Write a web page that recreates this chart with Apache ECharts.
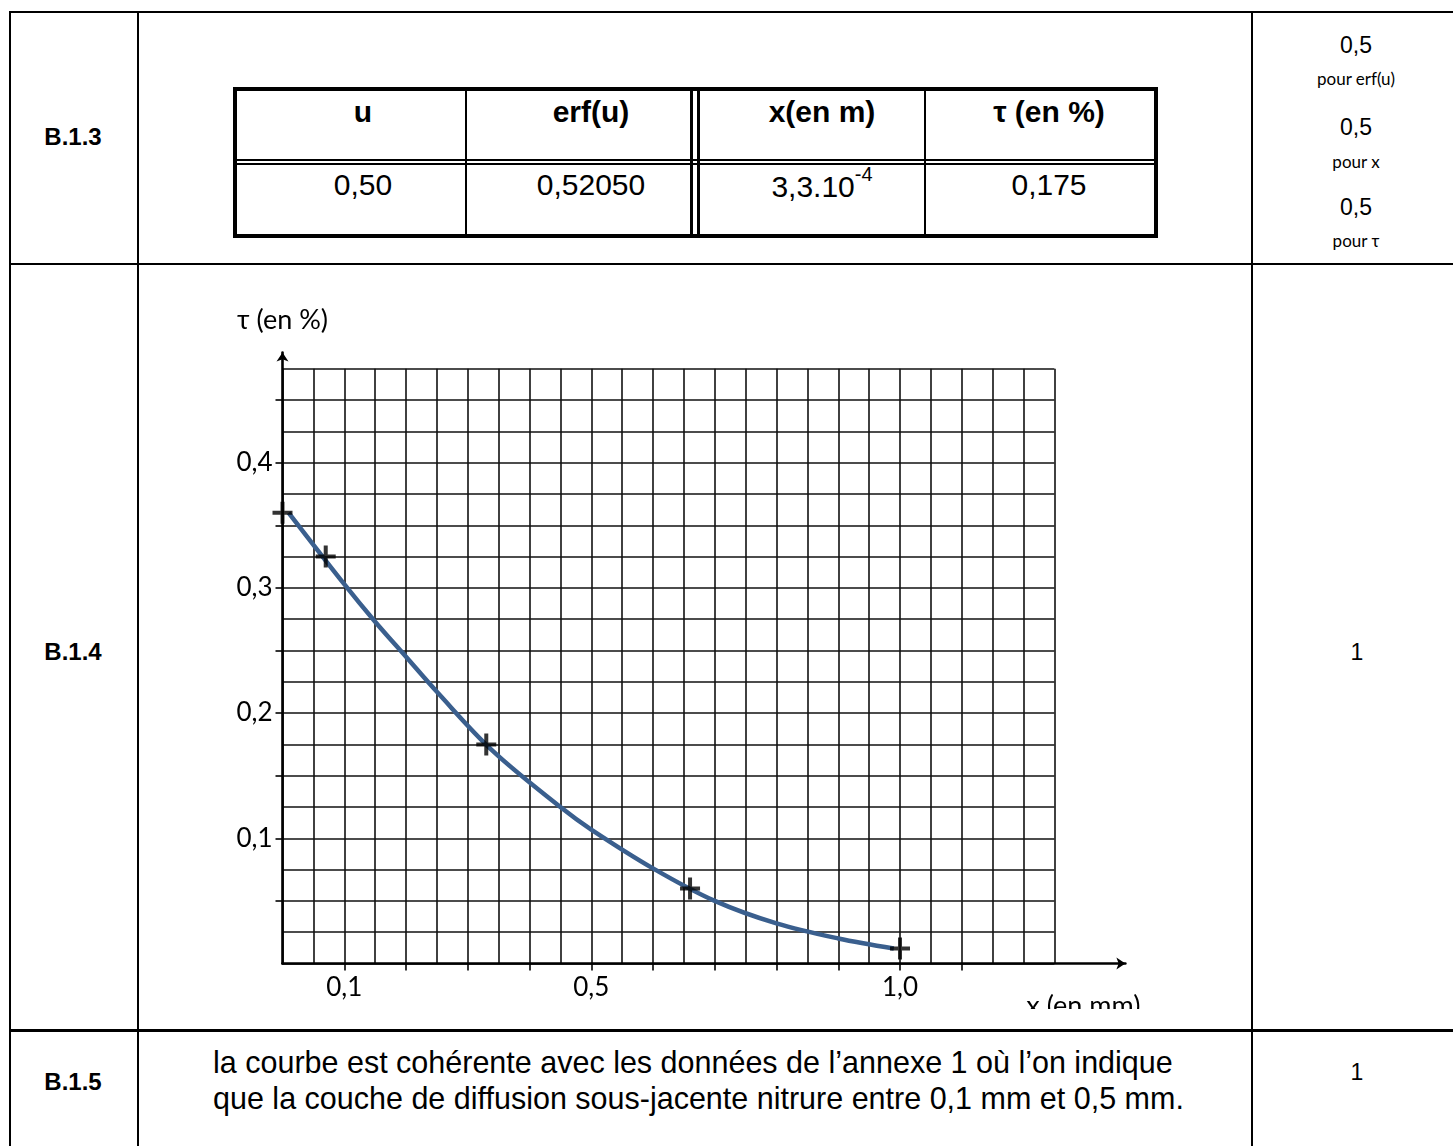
<!DOCTYPE html>
<html>
<head>
<meta charset="utf-8">
<script src="https://cdn.jsdelivr.net/npm/echarts@6/dist/echarts.min.js"></script>
<style>
  html, body { margin: 0; padding: 0; background: #fff; }
  body { position: relative; width: 1453px; height: 1146px; overflow: hidden; font-family: Arial, "Liberation Sans", sans-serif; color: #000; }
  .h, .v { position: absolute; background: #000; }
  .t { position: absolute; transform: translate(-50%, -50%); white-space: nowrap; line-height: 1; }
  .b { font-weight: bold; }
  .cal { font-family: Lato, "Open Sans", sans-serif; }
  #main1 { position: absolute; left: 140px; top: 266px; width: 1110px; height: 743px; }
  .para { position: absolute; left: 213px; font-size: 30.5px; line-height: 36px; white-space: nowrap; }
</style>
</head>
<body>
<!-- grand tableau -->
<div class="h" style="left:9px;top:11px;width:1444px;height:2px"></div>
<div class="v" style="left:9px;top:11px;width:2px;height:1135px"></div>
<div class="v" style="left:137px;top:11px;width:2px;height:1135px"></div>
<div class="v" style="left:1251px;top:11px;width:2px;height:1135px"></div>
<div class="h" style="left:9px;top:263px;width:1444px;height:2px"></div>
<div class="h" style="left:9px;top:1029px;width:1444px;height:3px"></div>

<!-- B.1.3 -->
<div class="t b" style="left:73px;top:137px;font-size:24px">B.1.3</div>
<div style="position:absolute;left:233px;top:87px;width:925px;height:151px;border:4px solid #000;box-sizing:border-box"></div>
<div class="v" style="left:465px;top:87px;width:2px;height:151px"></div>
<div class="v" style="left:690px;top:87px;width:3px;height:151px"></div>
<div class="v" style="left:697px;top:87px;width:3px;height:151px"></div>
<div class="v" style="left:924px;top:87px;width:2px;height:151px"></div>
<div class="h" style="left:233px;top:159px;width:925px;height:2px"></div>
<div class="h" style="left:233px;top:163px;width:925px;height:2px"></div>

<div class="t b" style="left:363px;top:112px;font-size:30px">u</div>
<div class="t b" style="left:591px;top:112px;font-size:30px">erf(u)</div>
<div class="t b" style="left:822px;top:112px;font-size:30px">x(en m)</div>
<div class="t b" style="left:1049px;top:112px;font-size:30px">τ (en %)</div>
<div class="t" style="left:363px;top:185px;font-size:30px">0,50</div>
<div class="t" style="left:591px;top:185px;font-size:30px">0,52050</div>
<div class="t" style="left:822px;top:183px;font-size:30px">3,3.10<sup style="font-size:20px;vertical-align:16px">-4</sup></div>
<div class="t" style="left:1049px;top:185px;font-size:30px">0,175</div>

<div class="t" style="left:1356px;top:45px;font-size:23px">0,5</div>
<div class="t cal" style="left:1356px;top:78px;font-size:17px">pour erf(u)</div>
<div class="t" style="left:1356px;top:127px;font-size:23px">0,5</div>
<div class="t cal" style="left:1356px;top:161px;font-size:17px">pour x</div>
<div class="t" style="left:1356px;top:207px;font-size:23px">0,5</div>
<div class="t cal" style="left:1356px;top:240px;font-size:17px">pour τ</div>

<!-- B.1.4 -->
<div class="t b" style="left:73px;top:652px;font-size:24px">B.1.4</div>
<div class="t" style="left:1357px;top:652px;font-size:23px">1</div>
<div id="main1"></div>

<!-- B.1.5 -->
<div class="t b" style="left:73px;top:1082px;font-size:24px">B.1.5</div>
<div class="para" style="top:1044px">la courbe est cohérente avec les données de l’annexe 1 où l’on indique</div>
<div class="para" style="top:1080px">que la couche de diffusion sous-jacente nitrure entre 0,1 mm et 0,5 mm.</div>
<div class="t" style="left:1357px;top:1072px;font-size:23px">1</div>

<script>
var myChart = echarts.init(document.getElementById("main1"));

// points relevés (croix)
const pointX = [0, 0.07, 0.33, 0.66, 1.0];
const pointY = [0.36, 0.325, 0.175, 0.06, 0.012];

// courbe tracée à la main
const curveX = [0.01, 0.1, 0.15, 0.2, 0.25, 0.34, 0.45, 0.5, 0.6, 0.7, 0.8, 0.9, 0.99];
const curveY = [0.36, 0.303, 0.273, 0.245, 0.217, 0.17, 0.125, 0.107, 0.076, 0.05, 0.032, 0.02, 0.012];

// graduations
const xTickValues = [0.1, 0.2, 0.3, 0.4, 0.5, 0.6, 0.7, 0.8, 0.9, 1.0, 1.1];
const xLabelValues = [0.1, 0.5, 1.0];
const yTickValues = [0.05, 0.1, 0.15, 0.2, 0.25, 0.3, 0.35, 0.4, 0.45];
const yLabelValues = [0.1, 0.2, 0.3, 0.4];

// papier millimétré
const cellX = 0.05, cellY = 0.025;
const paperMaxX = 1.25, paperMaxY = 0.475;
const arrowMaxX = 1.365, arrowMaxY = 0.488;

// échelle en pixels (origine dans le repère du graphique)
const ox = 142.5, oy = 697.5;
const pxX = 617.5, pxY = 1252;

const fmt = (v) => v.toFixed(1).replace(".", ",");
const labelFont = "Lato, 'Open Sans', sans-serif";
const plus = "path://M-2,-11H2V-2H10V2H2V11H-2V2H-10V-2H-2Z";

option = {
  animation: false,
  grid: [
    {
      left: ox, top: oy - paperMaxY * pxY,
      width: paperMaxX * pxX, height: paperMaxY * pxY,
      outerBoundsMode: "none",
    },
    {
      left: ox, top: oy - arrowMaxY * pxY,
      width: arrowMaxX * pxX, height: arrowMaxY * pxY,
      outerBoundsMode: "none",
    },
  ],
  xAxis: [
    {
      type: "value", gridIndex: 0, min: 0, max: paperMaxX, interval: cellX,
      axisLine: { show: false }, axisTick: { show: false }, axisLabel: { show: false },
      splitLine: { show: true, lineStyle: { color: "#111", width: 1.6 } },
    },
    {
      type: "value", gridIndex: 1, min: 0, max: arrowMaxX,
      axisLine: {
        show: true, onZero: false,
        symbol: ["none", "arrow"], symbolSize: [9, 9],
        lineStyle: { color: "#000", width: 2.6 },
      },
      axisTick: { show: true, customValues: xTickValues, length: 7, lineStyle: { color: "#000", width: 1.6 } },
      axisLabel: {
        show: true, customValues: xLabelValues, formatter: fmt,
        margin: 11, color: "#000", fontSize: 26, fontFamily: labelFont,
      },
      splitLine: { show: false },
      name: "x (en mm)", nameLocation: "end", nameGap: -42,
      nameTextStyle: {
        color: "#000", fontSize: 27, fontFamily: labelFont,
        align: "center", verticalAlign: "top", padding: [29, 0, 0, 0],
      },
    },
  ],
  yAxis: [
    {
      type: "value", gridIndex: 0, min: 0, max: paperMaxY, interval: cellY,
      axisLine: { show: false }, axisTick: { show: false }, axisLabel: { show: false },
      splitLine: { show: true, lineStyle: { color: "#111", width: 1.6 } },
    },
    {
      type: "value", gridIndex: 1, min: 0, max: arrowMaxY,
      axisLine: {
        show: true, onZero: false,
        symbol: ["none", "arrow"], symbolSize: [9, 9],
        lineStyle: { color: "#000", width: 2.6 },
      },
      axisTick: { show: true, customValues: yTickValues, length: 7, lineStyle: { color: "#000", width: 1.6 } },
      axisLabel: {
        show: true, customValues: yLabelValues, formatter: fmt,
        margin: 10, color: "#000", fontSize: 26, fontFamily: labelFont,
      },
      splitLine: { show: false },
      name: "τ (en %)", nameLocation: "end", nameGap: 19,
      nameTextStyle: { color: "#000", fontSize: 27, fontFamily: labelFont, align: "center" },
    },
  ],
  series: [
    {
      name: "courbe",
      type: "line",
      xAxisIndex: 1, yAxisIndex: 1,
      smooth: 0.35,
      showSymbol: false,
      lineStyle: { color: "#3a5f8e", width: 4.5 },
      data: curveX.map((x, i) => [x, curveY[i]]),
      z: 3,
    },
    {
      name: "points",
      type: "scatter",
      xAxisIndex: 1, yAxisIndex: 1,
      symbol: plus,
      symbolSize: [20, 22],
      itemStyle: { color: "#000" },
      data: pointX.map((x, i) => [x, pointY[i]]),
      z: 4,
    },
  ],
};
myChart.setOption(option);
</script>
</body>
</html>
